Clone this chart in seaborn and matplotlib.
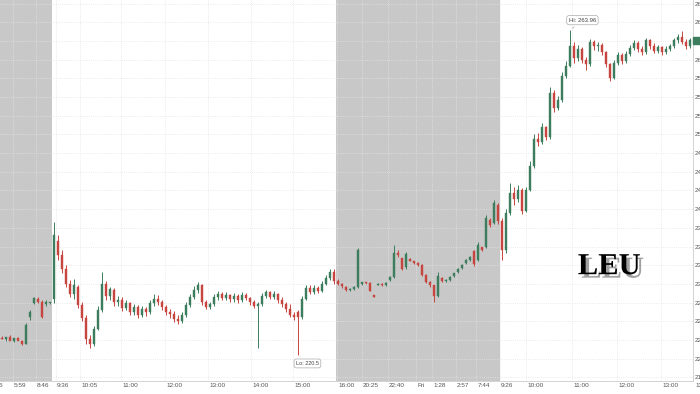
import numpy as np
import matplotlib
matplotlib.use("Agg")
import matplotlib.pyplot as plt
import matplotlib.patheffects as pe
import seaborn as sns

# ---------------- data ----------------
opens = [222.8, 222.6, 222.9, 222.4, 222.7, 222.3, 222.0, 225.5, 227.5, 228.0, 227.6, 227.3, 227.4,
         228.0, 235.8, 233.8, 232.0, 230.0, 228.6, 229.6, 227.2, 225.4, 222.6, 222.0, 224.0, 226.5, 230.0,
         228.4, 229.2, 227.6, 227.9, 226.8, 227.4, 226.3, 226.9, 225.8, 226.6, 226.2, 227.4, 228.0, 227.6,
         226.9, 226.3, 226.0, 225.3, 225.0, 225.9, 227.2, 228.3, 229.2, 229.8, 227.6, 226.9, 227.3, 228.2,
         228.6, 228.1, 228.5, 228.0, 228.4, 227.8, 228.5, 228.1, 227.6, 227.1, 227.3, 228.4, 228.9, 228.3,
         228.6, 227.9, 227.3, 226.6, 225.9, 226.2, 225.5, 228.0, 229.5, 228.9, 229.4, 229.1, 230.0, 230.8,
         231.6,
         230.4, 230.0, 229.6, 229.2, 229.3, 229.6, 230.0, 230.2, 230.1, 228.4, 229.9, 230.0, 229.8, 230.5,
         230.9, 234.2, 233.4, 232.2, 233.3, 233.0, 232.8, 232.5, 231.2, 230.3, 229.8, 228.4, 230.8, 230.4,
         230.5, 231.0, 231.6, 232.1, 232.8, 233.2, 234.4, 233.2, 234.9, 235.0, 238.6, 238.2, 240.6,
         238.4, 234.5, 239.5, 242.2, 241.4, 242.5, 239.8, 242.6, 245.8, 249.4, 249.0, 251.0, 249.6, 255.6,
         253.6, 254.6, 257.8, 259.2, 261.8, 260.2, 261.4, 260.0, 259.4, 262.4, 261.8, 262.0, 261.0, 259.4,
         257.6, 259.6, 260.6, 259.8, 260.8, 261.6, 262.3, 261.5, 261.0, 262.6, 261.8, 261.2, 261.7, 261.0,
         261.4, 261.8, 262.6, 263.0, 262.4, 261.8]
highs = [223.0, 222.8, 223.1, 222.7, 222.9, 222.5, 224.8, 226.5, 228.3, 228.2, 227.8, 227.8, 227.6,
         238.3, 236.5, 234.5, 232.5, 230.5, 230.6, 229.9, 227.6, 225.8, 223.2, 224.4, 227.0, 231.6, 230.4,
         229.6, 229.5, 228.4, 228.3, 227.8, 227.6, 227.3, 227.2, 227.0, 226.9, 227.8, 228.6, 228.5, 227.9,
         227.2, 226.6, 226.4, 225.8, 226.3, 227.6, 228.7, 229.7, 230.2, 230.0, 227.9, 227.6, 228.6, 229.0,
         228.9, 228.9, 228.7, 228.8, 228.6, 228.9, 228.8, 228.3, 227.8, 227.6, 228.8, 229.2, 229.1, 229.0,
         228.8, 228.2, 227.6, 227.3, 226.2, 226.5, 228.4, 229.8, 229.8, 229.8, 229.7, 230.4, 231.2, 232.0,
         232.0,
         230.6, 230.1, 229.7, 229.4, 229.7, 234.8, 230.3, 230.3, 230.2, 228.5, 230.1, 230.1, 230.2, 231.0,
         235.2, 234.5, 233.5, 234.3, 233.4, 233.1, 232.9, 232.6, 231.3, 230.4, 229.9, 231.6, 230.9, 230.6,
         231.0, 231.5, 232.1, 232.6, 233.3, 233.7, 234.6, 235.6, 235.0, 239.2, 238.8, 241.2, 240.8,
         238.8, 240.0, 243.5, 243.0, 243.2, 242.8, 243.0, 246.4, 250.0, 250.2, 251.6, 251.2, 256.3, 255.9,
         255.2, 258.3, 259.8, 263.96, 262.4, 262.0, 261.7, 260.4, 262.8, 262.6, 262.4, 262.2, 261.2, 259.6,
         260.0, 261.0, 260.9, 261.2, 262.0, 262.6, 262.5, 261.8, 262.9, 262.8, 262.2, 262.0, 261.9, 261.8,
         262.1, 262.9, 263.4, 263.8, 262.8, 262.9]
lows = [222.6, 222.4, 222.7, 222.2, 222.5, 221.8, 221.9, 225.2, 227.3, 227.4, 225.4, 227.1, 227.3,
        227.5, 233.2, 231.5, 229.6, 228.2, 228.0, 226.8, 225.0, 222.0, 221.4, 221.7, 223.8, 226.2, 227.8,
        227.9, 227.0, 227.0, 226.4, 226.5, 225.9, 225.8, 225.4, 225.6, 225.7, 226.0, 227.1, 227.2, 226.5,
        225.8, 225.4, 224.9, 224.6, 224.7, 225.6, 226.9, 228.0, 228.8, 227.2, 226.6, 226.7, 227.0, 227.9,
        227.8, 227.8, 227.6, 227.6, 227.5, 227.6, 227.8, 227.2, 226.8, 221.4, 227.1, 228.1, 228.0, 228.0,
        227.5, 226.9, 226.2, 225.6, 225.2, 220.5, 225.3, 227.8, 228.6, 228.7, 228.8, 228.9, 229.8, 230.5,
        230.0,
        229.8, 229.5, 229.0, 229.1, 229.2, 229.5, 229.9, 230.0, 229.0, 228.2, 229.8, 229.7, 229.7, 230.4,
        230.8, 233.6, 231.8, 232.0, 233.0, 232.7, 232.4, 231.0, 230.1, 229.6, 227.6, 228.2, 230.2, 230.3,
        230.4, 230.9, 231.5, 232.0, 232.7, 233.1, 232.4, 233.0, 234.4, 234.8, 237.6, 238.0, 238.0,
        233.2, 234.2, 239.2, 240.6, 241.0, 239.4, 239.6, 242.4, 245.5, 248.4, 248.7, 249.2, 249.4, 253.0,
        253.3, 254.4, 257.5, 259.0, 259.6, 259.8, 259.5, 258.6, 259.2, 261.3, 261.2, 260.6, 259.0, 257.2,
        257.4, 259.3, 259.4, 259.6, 260.5, 261.3, 261.0, 260.7, 260.8, 261.4, 260.9, 260.9, 260.7, 260.8,
        261.2, 261.6, 262.3, 262.1, 261.5, 261.6]
closes = [222.6, 222.9, 222.4, 222.7, 222.3, 222.0, 224.5, 226.3, 228.1, 227.6, 225.6, 227.6, 227.5,
          236.5, 233.8, 232.0, 230.0, 228.6, 229.8, 227.2, 225.4, 222.6, 222.0, 224.0, 226.5, 230.0, 228.4,
          229.3, 227.6, 227.9, 226.8, 227.4, 226.3, 226.9, 225.8, 226.6, 226.2, 227.4, 228.0, 227.6, 226.9,
          226.3, 226.0, 225.3, 225.0, 225.9, 227.2, 228.3, 229.2, 229.8, 227.6, 226.9, 227.3, 228.2, 228.6,
          228.1, 228.5, 228.0, 228.4, 227.8, 228.5, 228.1, 227.6, 227.1, 227.3, 228.4, 228.9, 228.3, 228.6,
          227.9, 227.3, 226.6, 225.9, 225.6, 225.5, 228.0, 229.5, 228.9, 229.4, 229.1, 230.0, 230.8, 231.6,
          230.4,
          230.0, 229.7, 229.2, 229.3, 229.6, 234.6, 230.2, 230.1, 229.1, 228.3, 230.0, 229.8, 230.1, 230.9,
          234.2, 233.8, 232.0, 234.0, 233.1, 232.8, 232.5, 231.2, 230.3, 229.8, 228.4, 231.0, 230.4, 230.5,
          230.9, 231.4, 232.0, 232.5, 233.2, 233.6, 232.6, 235.2, 234.6, 238.8, 237.9, 240.8, 238.4,
          234.5, 239.5, 242.2, 241.4, 242.5, 239.8, 242.6, 245.8, 249.4, 249.0, 251.0, 249.6, 255.6, 253.6,
          254.6, 257.8, 259.2, 261.8, 260.2, 261.4, 260.0, 259.4, 262.4, 261.8, 262.0, 261.0, 259.4, 257.6,
          259.6, 260.6, 259.8, 260.8, 261.6, 262.3, 261.5, 261.0, 262.6, 261.8, 261.2, 261.7, 261.0, 261.4,
          261.8, 262.6, 263.0, 262.4, 261.8, 262.6]

tick_labels = ["4:16", "5:59", "8:46", "9:36", "10:05", "11:00", "12:00", "13:00", "14:00", "15:00",
               "16:00", "20:25", "22:40", "Fri", "1:28", "2:57", "7:44", "9:26", "10:00", "11:00",
               "12:00", "13:00", "13:30"]
tick_pos = [-3.2, 2.75, 8.5, 13.5, 19.5, 29.75, 40.75, 51.5, 62.25, 72.75,
            83.75, 90.0, 96.5, 103.5, 107.5, 113.5, 118.5, 124.5, 131.0, 142.5,
            153.75, 164.75, 173.0]
shaded_spans = [(-0.5, 12.6), (83.6, 124.6)]
hi_idx, hi_val = 142, 263.96
lo_idx, lo_val = 74, 220.5
symbol = "LEU"

# ---------------- style ----------------
sns.set_theme(style="white")
plt.rcParams['font.family'] = ['Liberation Sans', 'DejaVu Sans']

UP = "#3b7d5d"
DOWN = "#c6463f"

fig = plt.figure(figsize=(7.0, 3.94), dpi=100)
ax = fig.add_axes([0.0, 13 / 394, 693 / 700, 381 / 394])

n = len(closes)
x = np.arange(n)
o = np.array(opens); h = np.array(highs); l = np.array(lows); c = np.array(closes)
up = c >= o
colors = np.where(up, UP, DOWN)

for a, b in shaded_spans:
    ax.axvspan(a, b, color="#c8c8c8", lw=0, zorder=0)

ax.vlines(x, l, h, colors=colors, lw=0.7, zorder=3)
body_bottom = np.minimum(o, c)
body_h = np.maximum(np.abs(c - o), 0.15)
ax.bar(x, body_h, bottom=body_bottom, width=0.55, color=colors, edgecolor=colors, lw=0.3, zorder=4)

ax.set_xlim(-0.5, 172.75)
ax.set_ylim(217.0, 268.0)

# grid
yt = np.arange(217.5, 268.0, 2.5)
ax.set_yticks(yt)
ax.set_yticklabels([f"{v:.2f}" for v in yt], fontsize=4.6, color="#555555")
ax.yaxis.tick_right()
ax.tick_params(axis="y", length=0, pad=1.5)
inrange = [p for p in tick_pos if -0.5 <= p <= 172.75]
ax.set_xticks(inrange)
ax.set_xticklabels([])
ax.tick_params(axis="x", length=2.5, width=0.5, color="#bbbbbb")
ax.grid(True, which="major", color="#e4e4e4", linestyle=":", lw=0.6, zorder=1)
ax.set_axisbelow(True)

for side in ["top", "left"]:
    ax.spines[side].set_visible(False)
for side in ["right", "bottom"]:
    ax.spines[side].set_color("#cccccc")
    ax.spines[side].set_linewidth(0.6)

trans = matplotlib.transforms.blended_transform_factory(ax.transData, ax.transAxes)
for p, lab in zip(tick_pos, tick_labels):
    ax.text(p + 0.3, -0.006, lab, transform=trans, ha="left", va="top",
            fontsize=4.6, color="#555555", clip_on=False)

# Hi / Lo annotations
box = dict(boxstyle="round,pad=0.35,rounding_size=0.4", fc="white", ec="#aaaaaa", lw=0.5)
ax.annotate(f"Hi: {hi_val:.2f}", xy=(hi_idx, hi_val), xytext=(hi_idx - 0.3, 265.3),
            ha="left", va="center", fontsize=4.3, color="#444444", bbox=box,
            arrowprops=dict(arrowstyle="-", color="#aaaaaa", lw=0.5), zorder=6)
ax.annotate(f"Lo: {lo_val}", xy=(lo_idx, lo_val), xytext=(lo_idx - 0.5, 219.35),
            ha="left", va="center", fontsize=4.0, color="#444444", bbox=box,
            arrowprops=dict(arrowstyle="-", color="#aaaaaa", lw=0.5), zorder=6)

# last price marker
ax.add_patch(matplotlib.patches.Rectangle((172.75, closes[-1] - 0.45), 3, 0.9, transform=ax.transData,
                                          color=UP, clip_on=False, zorder=6))

# symbol watermark
ax.text(151.8, 232.3, symbol, ha="center", va="center", fontsize=22, fontweight="bold",
        family="Liberation Serif", color="black", zorder=7,
        path_effects=[pe.SimplePatchShadow(offset=(2.5, -2.5), shadow_rgbFace="#555555", alpha=0.55),
                      pe.Normal()])

fig.savefig("out.png", dpi=100)
